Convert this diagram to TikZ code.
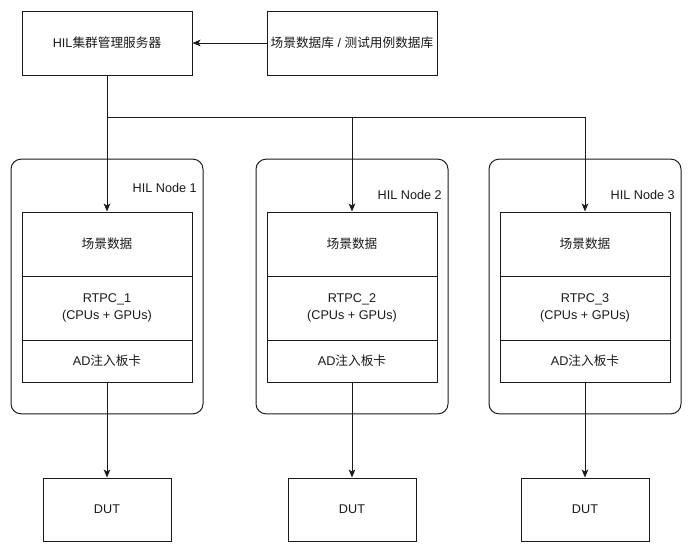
\documentclass[tikz,border=0pt]{standalone}
\usepackage{fontspec}
\setmainfont{Liberation Sans}
\newfontfamily\cjk{Noto Sans CJK SC}
\usepackage{xcolor}
\usetikzlibrary{positioning, arrows.meta}
\definecolor{cLine}{HTML}{1A1A1A}
\definecolor{cText}{HTML}{1A1A1A}

\begin{document}
\begin{tikzpicture}[x=0.75pt, y=-0.75pt,
    font=\fontsize{9.5}{12.5}\selectfont, text=cText,
    box/.style={draw=cLine, line width=0.75pt, inner sep=0pt, align=center,
                minimum width=127.5pt},
    nodebox/.style={draw=cLine, line width=0.75pt, rounded corners=7.5pt,
                    minimum width=144pt, minimum height=191pt, inner sep=0pt},
    link/.style={draw=cLine, line width=0.75pt,
                 -{Stealth[length=6pt, width=5pt, inset=1.5pt]}},
  ]
  \useasboundingbox (0, 0) rectangle (693, 554);

  % server and database
  \node[box, minimum height=48pt] (srv) at (107, 43) {HIL{\cjk 集群管理服务器}};
  \node[box, minimum height=48pt] (db) at (352, 43)
       {{\cjk 场景数据库} / {\cjk 测试用例数据库}};
  \draw[link] (db.west) -- (srv.east);
  \coordinate (bus) at (107, 117);

  % three HIL nodes
  \foreach \i/\cx/\ly in {1/107/188, 2/352/195, 3/585/195} {
    \node[nodebox] (hil\i) at (\cx, 286.5) {};
    \node[anchor=east, inner sep=0pt] (lbl\i) at (\cx+90, \ly) {HIL Node \i};
    \node[box, minimum height=48pt] (scene\i) at (\cx, 244) {{\cjk 场景数据}};
    \node[box, minimum height=48pt] (rtpc\i) at (\cx, 308)
         {RTPC\_\i\\(CPUs + GPUs)};
    \node[box, minimum height=31.5pt] (ad\i) at (\cx, 361) {AD{\cjk 注入板卡}};
    \node[box, minimum width=96pt, minimum height=47.25pt] (dut\i)
         at (\cx, 509.5) {DUT};
    \draw[link] (ad\i.south) -- (dut\i.north);
  }

  \draw[cLine, line width=0.75pt] (srv.south) -- (bus);
  \draw[link] (bus) -- (scene1.north);
  \draw[link] (bus) -| (scene2.north);
  \draw[link] (bus) -| (scene3.north);
\end{tikzpicture}
\end{document}
